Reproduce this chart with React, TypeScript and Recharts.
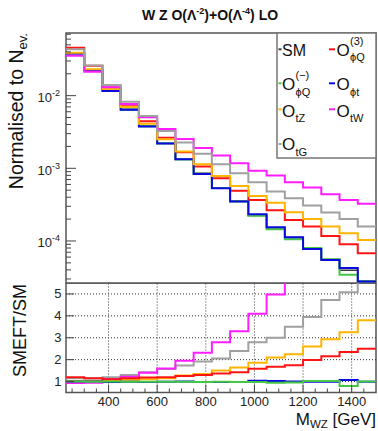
import React from 'react';
import { LineChart, Line, XAxis, YAxis, ReferenceArea, ReferenceLine } from 'recharts';

// bin low edges in GeV (75 GeV wide bins), last edge closes the histogram
const binEdges = [225, 300, 375, 450, 525, 600, 675, 750, 825, 900, 975, 1050, 1125, 1200, 1275, 1350, 1425];
const xMax = 1500;

// upper pad: normalised distributions
const normSM = [0.038, 0.02265, 0.01183, 0.0065, 0.00382, 0.00222, 0.00133, 0.000855, 0.00054, 0.000355, 0.000225, 0.000152, 0.000112, 0.0000785, 0.0000555, 0.0000395, 0.000028];
const normPhiQ3 = [0.0457, 0.0258, 0.0129, 0.0075, 0.00445, 0.00264, 0.00166, 0.001055, 0.000731, 0.000493, 0.000367, 0.000264, 0.000195, 0.000158, 0.0001175, 0.0000903, 0.0000679];
const normPhiQm = [0.0378, 0.0225, 0.0118, 0.0064, 0.00378, 0.00219, 0.00132, 0.00084, 0.000536, 0.00035, 0.000222, 0.000145, 0.000106, 0.0000803, 0.0000561, 0.0000342, 0.000028];
const normPhit = [0.038, 0.0226, 0.0116, 0.00642, 0.00375, 0.00219, 0.00133, 0.000838, 0.000532, 0.000348, 0.000234, 0.000155, 0.0001128, 0.0000778, 0.0000549, 0.0000423, 0.0000277];
const normTZ = [0.0388, 0.0231, 0.01235, 0.007, 0.00412, 0.00251, 0.0017, 0.001138, 0.000785, 0.000573, 0.000417, 0.000337, 0.000249, 0.0002, 0.000158, 0.000128, 0.0001035];
const normTW = [0.0355, 0.0214, 0.01306, 0.00769, 0.00505, 0.00348, 0.00254, 0.00191, 0.001496, 0.001175, 0.000929, 0.000798, 0.000644, 0.000543, 0.000441, 0.000367, 0.000324];
const normTG = [0.0435, 0.0259, 0.014, 0.00827, 0.00526, 0.00327, 0.00226, 0.00158, 0.001138, 0.000857, 0.000644, 0.000479, 0.000388, 0.000307, 0.000246, 0.0002, 0.000158];

// lower pad: SMEFT/SM
const ratioPhiQ3 = [1.2, 1.15, 1.1, 1.15, 1.18, 1.2, 1.25, 1.3, 1.37, 1.42, 1.58, 1.68, 1.74, 1.98, 2.15, 2.35, 2.5];
const ratioPhiQm = [1.0, 0.99, 1.0, 0.99, 0.99, 0.99, 0.99, 0.98, 0.99, 0.98, 0.98, 0.95, 0.96, 1.02, 1.02, 0.8, 1.0];
const ratioPhit = [1.0, 1.0, 0.98, 0.99, 0.98, 0.99, 1.0, 0.98, 0.98, 0.98, 1.04, 1.02, 1.0, 0.99, 0.99, 1.07, 0.99];
const ratioTZ = [1.02, 1.02, 1.04, 1.08, 1.1, 1.15, 1.28, 1.34, 1.5, 1.64, 1.86, 2.1, 2.25, 2.6, 2.93, 3.25, 3.8];
const ratioTW = [0.93, 0.95, 1.12, 1.22, 1.4, 1.6, 1.95, 2.32, 2.8, 3.3, 4.1, 4.97, 5.9, 6.9, 7.9, 9, 11.5];
const ratioTG = [1.15, 1.14, 1.2, 1.3, 1.43, 1.57, 1.73, 1.92, 2.05, 2.4, 2.8, 3.0, 3.5, 3.95, 4.72, 5.08, 5.7];

const upperMajor = [1e-4, 1e-3, 1e-2];
const upperMajorExp = ['-4', '-3', '-2'];
const lowerYTicks = [1, 2, 3, 4, 5];
const xMajor = [400, 600, 800, 1000, 1200, 1400];

const Y_UP: [number, number] = [2.64e-5, 0.0728];
const Y_LO: [number, number] = [0.5, 5.5];
const FONT = '"Liberation Sans", Arial, Helvetica, sans-serif';

const COL = {
  sm: '#3a3a3a',
  phiQ3: '#ff1414',
  phiQm: '#44c844',
  phit: '#0a0ae0',
  tZ: '#ffb400',
  tW: '#ff1cff',
  tG: '#a0a0a0',
};

function buildRows(series: Record<string, number[]>) {
  const rows: any[] = binEdges.map((x, i) => {
    const r: any = { x };
    Object.keys(series).forEach(k => { r[k] = series[k][i]; });
    return r;
  });
  const last: any = { x: xMax };
  Object.keys(series).forEach(k => { last[k] = series[k][series[k].length - 1]; });
  rows.push(last);
  return rows;
}

const upperRows = buildRows({ sm: normSM, phiQ3: normPhiQ3, phiQm: normPhiQm, phit: normPhit, tZ: normTZ, tW: normTW, tG: normTG });
const lowerRows = buildRows({ phiQ3: ratioPhiQ3, phiQm: ratioPhiQm, phit: ratioPhit, tZ: ratioTZ, tW: ratioTW, tG: ratioTG });

// minor ticks of the log axis
const upperTicks: number[] = [];
[1e-5, 1e-4, 1e-3, 1e-2].forEach(d => {
  for (let m = 1; m <= 9; m++) {
    const v = d * m;
    if (v >= Y_UP[0] && v <= Y_UP[1]) upperTicks.push(v);
  }
});

const xTicks: number[] = [];
for (let v = 250; v < xMax; v += 50) xTicks.push(v);

const LogTick = (props: any) => {
  const { x, y, payload } = props;
  const idx = upperMajor.findIndex(m => Math.abs(m - payload.value) / m < 1e-6);
  const major = idx >= 0;
  return (
    <g>
      <line x1={x} x2={x + (major ? 10 : 5)} y1={y} y2={y} stroke="#444" strokeWidth={1} />
      {major && (
        <text x={x - 6} y={y + 6.5} textAnchor="end" fontSize={13} fill="#222" fontFamily={FONT}>
          10<tspan dy={-6} fontSize={9}>{upperMajorExp[idx]}</tspan>
        </text>
      )}
    </g>
  );
};

const LinTick = (props: any) => {
  const { x, y, payload } = props;
  return (
    <g>
      <line x1={x} x2={x + 8} y1={y} y2={y} stroke="#444" strokeWidth={1} />
      <text x={x - 4.5} y={y + 4.5} textAnchor="end" fontSize={13} fill="#222" fontFamily={FONT}>{payload.value}</text>
    </g>
  );
};

const XTick = (props: any) => {
  const { x, y, payload } = props;
  const major = xMajor.includes(payload.value);
  return (
    <g>
      <line x1={x} x2={x} y1={y} y2={y - (major ? 8 : 4)} stroke="#444" strokeWidth={1} />
      {major && (
        <text x={x} y={y + 13.5} textAnchor="middle" fontSize={13} fill="#222" fontFamily={FONT}>{payload.value}</text>
      )}
    </g>
  );
};

const upperSeries = [
  { key: 'sm', color: COL.sm, w: 1.5 },
  { key: 'phiQ3', color: COL.phiQ3, w: 2 },
  { key: 'phiQm', color: COL.phiQm, w: 2 },
  { key: 'phit', color: COL.phit, w: 2 },
  { key: 'tZ', color: COL.tZ, w: 2 },
  { key: 'tW', color: COL.tW, w: 2 },
  { key: 'tG', color: COL.tG, w: 2 },
];

const lowerSeries = [
  { key: 'tG', color: COL.tG },
  { key: 'tW', color: COL.tW },
  { key: 'tZ', color: COL.tZ },
  { key: 'phiQ3', color: COL.phiQ3 },
  { key: 'phit', color: COL.phit },
  { key: 'phiQm', color: COL.phiQm },
];

function Legend() {
  const O = (x: number, y: number, sub: string, sup?: string) => (
    <g fontFamily={FONT} fill="#111">
      <text x={x} y={y} fontSize={17}>O</text>
      {sup && <text x={x + 13.5} y={y - 11} fontSize={11}>{sup}</text>}
      <text x={x + 13.5} y={y + 5.5} fontSize={11}>{sub}</text>
    </g>
  );
  const mark = (x: number, y: number, w: number, c: string) => (
    <line x1={x} x2={x + w} y1={y} y2={y} stroke={c} strokeWidth={2} />
  );
  return (
    <g transform="translate(277,33)">
      <rect x={0} y={0} width={99} height={125} fill="#fff" stroke="#777" strokeWidth={1.5} />
      {mark(1.5, 16.3, 3, COL.sm)}
      <text x={5} y={22.5} fontSize={16} fontFamily={FONT} fill="#111">SM</text>
      {mark(52, 16.3, 6, COL.phiQ3)}
      {O(59.5, 22.8, 'ϕQ', '(3)')}
      {mark(1.5, 50.3, 3, COL.phiQm)}
      {O(5, 57, 'ϕQ', '(−)')}
      {mark(52, 50.3, 6, COL.phit)}
      {O(59.5, 57, 'ϕt')}
      {mark(1.5, 76.3, 3, COL.tZ)}
      {O(5, 83.5, 'tZ')}
      {mark(52, 76.3, 6, COL.tW)}
      {O(59.5, 83.5, 'tW')}
      {mark(1.5, 111, 3, COL.tG)}
      {O(5, 117, 'tG')}
    </g>
  );
}

export default function App() {
  return (
    <div style={{ position: 'absolute', left: 0, top: 0, width: 378, height: 431, background: '#fff', fontFamily: FONT }}>
      <div style={{ position: 'absolute', left: 0, top: 0 }}>
        <LineChart width={378} height={284} data={upperRows} margin={{ top: 33, right: 2, bottom: 1, left: 0 }}>
          <XAxis dataKey="x" type="number" domain={[binEdges[0], xMax]} allowDataOverflow hide />
          <YAxis
            type="number"
            scale="log"
            domain={Y_UP}
            allowDataOverflow
            ticks={upperTicks}
            interval={0}
            tick={<LogTick />}
            tickLine={false}
            axisLine={false}
            tickSize={0}
            tickMargin={0}
            width={66}
          />
          {upperSeries.map(s => (
            <Line key={s.key} dataKey={s.key} type="stepAfter" stroke={s.color} strokeWidth={s.w} dot={false} isAnimationActive={false} />
          ))}
          <ReferenceArea x1={binEdges[0]} x2={xMax} y1={Y_UP[0]} y2={Y_UP[1]} fill="none" stroke="#555" strokeWidth={1.5} ifOverflow="visible" />
        </LineChart>
      </div>
      <div style={{ position: 'absolute', left: 0, top: 283 }}>
        <LineChart width={378} height={148} data={lowerRows} margin={{ top: 0, right: 2, bottom: 0, left: 0 }}>
          <XAxis
            dataKey="x"
            type="number"
            domain={[binEdges[0], xMax]}
            allowDataOverflow
            ticks={xTicks}
            interval={0}
            tick={<XTick />}
            tickLine={false}
            axisLine={false}
            tickSize={0}
            tickMargin={0}
            height={38.5}
          />
          <YAxis
            type="number"
            domain={Y_LO}
            allowDataOverflow
            ticks={lowerYTicks}
            interval={0}
            tick={<LinTick />}
            tickLine={false}
            axisLine={false}
            tickSize={0}
            tickMargin={0}
            width={66}
          />
          {lowerYTicks.map(v => (
            <ReferenceLine key={'h' + v} y={v} stroke="#333" strokeDasharray="1 2" />
          ))}
          {xMajor.map(v => (
            <ReferenceLine key={'v' + v} x={v} stroke="#333" strokeDasharray="1 2" />
          ))}
          {lowerSeries.map(s => (
            <Line key={s.key} dataKey={s.key} type="stepAfter" stroke={s.color} strokeWidth={2} dot={false} isAnimationActive={false} />
          ))}
          <ReferenceArea x1={binEdges[0]} x2={xMax} y1={Y_LO[0]} y2={Y_LO[1]} fill="none" stroke="#555" strokeWidth={1.5} ifOverflow="visible" />
        </LineChart>
      </div>
      <svg width={378} height={431} style={{ position: 'absolute', left: 0, top: 0, pointerEvents: 'none' }}>
        <text x={210} y={20} textAnchor="middle" fontSize={14} fontWeight="bold" fontFamily={FONT} fill="#111">
          W Z O(Λ<tspan dy={-6} fontSize={9}>-2</tspan><tspan dy={6}>)+O(Λ</tspan><tspan dy={-6} fontSize={9}>-4</tspan><tspan dy={6}>) LO</tspan>
        </text>
        <text transform="translate(23,33) rotate(-90)" textAnchor="end" fontSize={19.5} fontFamily={FONT} fill="#111">
          Normalised to N<tspan dy={4} fontSize={13}>ev.</tspan>
        </text>
        <text transform="translate(26,284) rotate(-90)" textAnchor="end" fontSize={18} fontFamily={FONT} fill="#111">
          SMEFT/SM
        </text>
        <text x={376} y={424.5} textAnchor="end" fontSize={17} fontFamily={FONT} fill="#111">
          M<tspan dy={3} fontSize={11.5}>WZ</tspan><tspan dy={-3}> [GeV]</tspan>
        </text>
        <Legend />
      </svg>
    </div>
  );
}
